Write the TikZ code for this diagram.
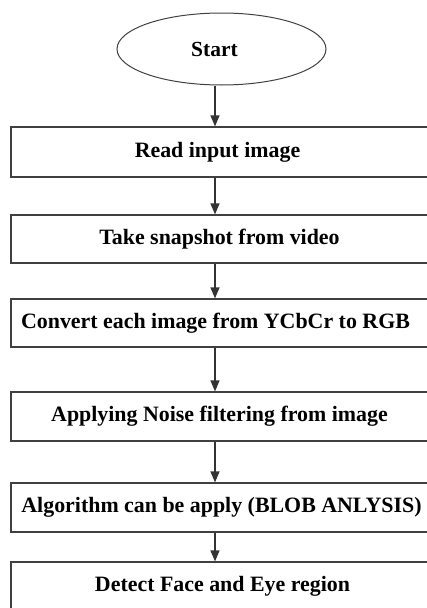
\documentclass[tikz,border=0pt]{standalone}
\usepackage{fontspec}
\setmainfont{Liberation Serif}
\usetikzlibrary{shapes.geometric,arrows.meta}
\tikzset{
  stepbox/.style={draw=black!75,line width=1.2pt,rectangle,minimum width=421pt,
    minimum height=48pt,inner sep=0pt,font=\fontsize{21.9}{24}\selectfont\bfseries,
    execute at begin node=\hspace*{#1}},
  stepbox/.default=0pt,
  startnode/.style={draw=black!75,line width=1pt,ellipse,minimum width=209pt,
    minimum height=72pt,inner sep=0pt,font=\fontsize{21.5}{24}\selectfont\bfseries,
    execute at begin node=\hspace*{-14pt}},
  flow/.style={draw=black!80,line width=1.2pt,-{Triangle[width=9pt,length=11pt]}}
}
\begin{document}
\begin{tikzpicture}[x=1pt,y=-1pt]
  \useasboundingbox (0,0) rectangle (427,608);
  \coordinate (ax) at (215,0);
  \node[startnode] (start) at (221.5,49) {Start};
  \node[stepbox=-8pt,minimum height=50pt] (read) at (221.5,152) {Read input image};
  \node[stepbox=-4pt] (snap) at (221.5,239) {Take snapshot from video};
  \node[stepbox=-12pt] (conv) at (221.5,323) {Convert each image from YCbCr to RGB};
  \node[stepbox=-4pt,minimum height=49pt] (noise) at (221.5,416.5) {Applying Noise filtering from image};
  \node[stepbox,minimum height=49pt] (blob) at (221.5,507.5) {Algorithm can be apply (BLOB ANLYSIS)};
  \node[stepbox=2pt] (detect) at (221.5,586) {Detect Face and Eye region};
  \draw[flow] (start.south -| ax) -- (read.north -| ax);
  \draw[flow] (read.south -| ax) -- (snap.north -| ax);
  \draw[flow] (snap.south -| ax) -- (conv.north -| ax);
  \draw[flow] (conv.south -| ax) -- (noise.north -| ax);
  \draw[flow] (noise.south -| ax) -- (blob.north -| ax);
  \draw[flow] (blob.south -| ax) -- (detect.north -| ax);
\end{tikzpicture}
\end{document}
